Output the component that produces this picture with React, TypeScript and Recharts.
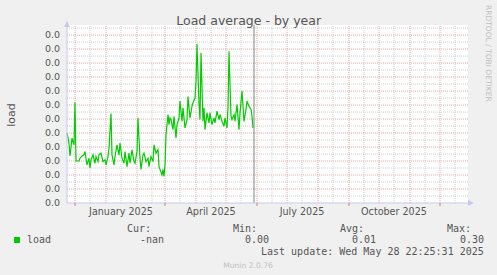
import { LineChart, Line, XAxis, YAxis, ReferenceLine, CartesianGrid } from 'recharts';

// days counted from 23 Nov 2024, one sample every day or two
const days = [
  0, 2, 3, 5, 7, 8, 9, 12, 13, 15, 17, 18, 20, 22, 23, 24, 26, 28, 29, 31, 32, 34, 36, 38, 39,
  41, 42, 44, 45, 47, 48, 50, 52, 53, 55, 57, 58, 60, 62, 63, 65, 67, 68, 70, 71, 73, 74, 76, 77,
  79, 81, 82, 84, 86, 87, 89, 91, 92, 93, 95, 96, 97, 98, 99, 101, 102, 103, 104, 106, 107, 109,
  110, 112, 113, 115, 116, 118, 120, 121, 123, 125, 126, 128, 129, 130, 132, 133, 134, 136, 137,
  138, 140, 142, 143, 145, 147, 148, 150, 152, 153, 155, 157, 158, 160, 161, 162, 164, 165, 167,
  168, 170, 172, 173, 175, 177, 179, 180, 182, 184, 185, 186,
];
const load = [
  0.125, 0.107, 0.084, 0.116, 0.104, 0.18, 0.075, 0.075, 0.08, 0.084, 0.086, 0.092, 0.068, 0.08,
  0.0625, 0.077, 0.086, 0.071, 0.083, 0.074, 0.086, 0.089, 0.074, 0.077, 0.068, 0.083, 0.098, 0.16,
  0.086, 0.068, 0.083, 0.104, 0.086, 0.107, 0.08, 0.071, 0.092, 0.065, 0.089, 0.071, 0.095, 0.074,
  0.071, 0.092, 0.152, 0.08, 0.06, 0.086, 0.089, 0.074, 0.08, 0.065, 0.083, 0.074, 0.104, 0.089,
  0.095, 0.065, 0.06, 0.05, 0.06, 0.048, 0.068, 0.122, 0.158, 0.14, 0.152, 0.149, 0.131, 0.155,
  0.116, 0.14, 0.152, 0.182, 0.146, 0.17, 0.134, 0.149, 0.19, 0.152, 0.173, 0.179, 0.1875, 0.217,
  0.284, 0.176, 0.149, 0.268, 0.146, 0.17, 0.131, 0.161, 0.143, 0.161, 0.14, 0.152, 0.143, 0.164,
  0.149, 0.158, 0.146, 0.137, 0.152, 0.134, 0.17, 0.271, 0.155, 0.149, 0.158, 0.146, 0.176, 0.131,
  0.161, 0.2, 0.146, 0.167, 0.182, 0.173, 0.167, 0.155, 0.134,
];

const nowDay = 187;
const monthStarts = [8, 39, 70, 98, 129, 159, 190, 220, 251, 282, 312, 343, 373];
const monthMids = [23, 54, 85, 113, 144, 174, 205, 235, 266, 297, 327, 358, 388];
const quarterTicks = [8, 98, 190, 282, 373];
const xLabelDays = [54, 144, 235, 327];
const xLabels = ['January 2025', 'April 2025', 'July 2025', 'October 2025'];

const yMajor = [0, 0.025, 0.05, 0.075, 0.1, 0.125, 0.15, 0.175, 0.2, 0.225, 0.25, 0.275, 0.3];
const yMinor = [0.0125, 0.0375, 0.0625, 0.0875, 0.1125, 0.1375, 0.1625, 0.1875, 0.2125, 0.2375, 0.2625, 0.2875, 0.3125];
const yTickLabels = ['0.0', '0.0', '0.0', '0.0', '0.0', '0.0', '0.0', '0.0', '0.0', '0.0', '0.0', '0.0', '0.0'];

const data = days.map((d, i) => ({ day: d, load: load[i] }));

const SANS = '"DejaVu Sans", sans-serif';
const MONO = '"DejaVu Sans Mono", monospace';
const TEXT = '#555555';
const AXIS = '#c4c8f0';
const MGRID = '#e8a8a8';
const GRID = '#cfcfcf';

function XTick(props: any) {
  const { x, y, payload } = props;
  const i = xLabelDays.indexOf(payload.value);
  if (i >= 0) {
    return (
      <text x={x} y={y + 12} textAnchor="middle" fontSize={9.6} fontFamily={SANS} fill={TEXT}>
        {xLabels[i]}
      </text>
    );
  }
  return <line x1={x} x2={x} y1={y} y2={y + 3} stroke="#e07878" />;
}

export default function App() {
  return (
    <div style={{ position: 'absolute', left: 0, top: 0, width: 497, height: 275, background: '#f0f0f0' }}>
      <LineChart width={497} height={275} data={data} margin={{ top: 25, right: 29, bottom: 52, left: 0 }}>
        <CartesianGrid fill="#ffffff" horizontal={false} vertical={false} />
        <XAxis
          dataKey="day"
          type="number"
          domain={[0, 401]}
          ticks={[...quarterTicks, ...xLabelDays]}
          interval={0}
          tick={<XTick />}
          tickLine={false}
          tickSize={0}
          tickMargin={0}
          height={20}
          axisLine={{ stroke: AXIS }}
        />
        <YAxis
          type="number"
          domain={[0, 0.318]}
          ticks={yMajor}
          interval={0}
          width={67}
          tickSize={0}
          tickMargin={7}
          tickLine={false}
          axisLine={{ stroke: AXIS }}
          tickFormatter={(_v: number, i: number) => yTickLabels[i]}
          tick={{ fontSize: 9.5, fontFamily: SANS, fill: TEXT }}
        />
        {yMinor.map((v) => (
          <ReferenceLine key={'ym' + v} y={v} stroke={GRID} strokeDasharray="1 1" />
        ))}
        {monthMids.map((d) => (
          <ReferenceLine key={'xm' + d} x={d} stroke={GRID} strokeDasharray="1 1" />
        ))}
        {yMajor.slice(1).map((v) => (
          <ReferenceLine key={'yM' + v} y={v} stroke={MGRID} strokeDasharray="1 1" />
        ))}
        {monthStarts.map((d) => (
          <ReferenceLine key={'xM' + d} x={d} stroke={MGRID} strokeDasharray="1 1" />
        ))}
        <Line
          type="linear"
          dataKey="load"
          stroke="#00cc00"
          strokeWidth={1.2}
          dot={false}
          isAnimationActive={false}
        />
        <ReferenceLine x={nowDay} stroke="#808080" />
      </LineChart>
      <svg
        width={497}
        height={275}
        style={{ position: 'absolute', left: 0, top: 0, pointerEvents: 'none' }}
      >
        <polygon points="64,27 70,27 67,21" fill={AXIS} />
        <polygon points="468,200 468,206 474,203" fill={AXIS} />
        <text x={248.7} y={24.5} textAnchor="middle" fontSize={12.5} fontFamily={SANS} fill={TEXT}>
          Load average - by year
        </text>
        <text
          transform="translate(15,115) rotate(-90)"
          textAnchor="middle"
          fontSize={11}
          fontFamily={SANS}
          fill={TEXT}
        >
          load
        </text>
        <text
          transform="translate(486,5) rotate(90)"
          fontSize={7.5}
          fontFamily={SANS}
          fill="#c0c0c0"
        >
          RRDTOOL / TOBI OETIKER
        </text>
        <g fontFamily={MONO} fontSize={10} fill={TEXT}>
          <text x={127} y={231.7}>Cur:</text>
          <text x={233} y={231.7}>Min:</text>
          <text x={340} y={231.7}>Avg:</text>
          <text x={447} y={231.7}>Max:</text>
          <text x={27} y={243}>load</text>
          <text x={140} y={243}>-nan</text>
          <text x={245} y={243}>0.00</text>
          <text x={352} y={243}>0.01</text>
          <text x={460} y={243}>0.30</text>
          <text x={261} y={254.7}>Last update: Wed May 28 22:25:31 2025</text>
        </g>
        <rect x={14} y={237} width={6} height={6} fill="#00cc00" />
        <text x={248} y={267.5} textAnchor="middle" fontSize={7.6} fontFamily={SANS} fill="#c0c0c0">
          Munin 2.0.76
        </text>
      </svg>
    </div>
  );
}
